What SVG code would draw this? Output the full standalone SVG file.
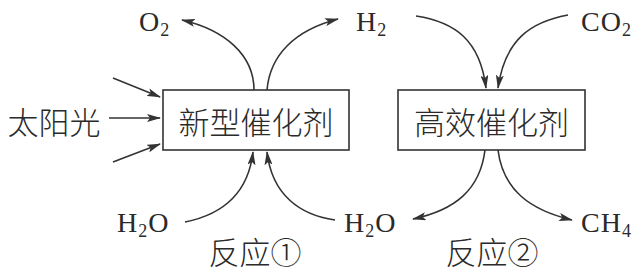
<svg xmlns="http://www.w3.org/2000/svg" width="641" height="273" viewBox="0 0 641 273">
<style>
.box{fill:#fff;stroke:#333;stroke-width:1.6}
.cjk{font-family:"Noto Sans CJK SC","Noto Sans CJK JP",sans-serif;font-size:31px;fill:#2a2a2a;font-weight:300}
.chem{font-family:"Liberation Serif","Times New Roman",serif;font-size:28px;fill:#2a2a2a;letter-spacing:1px}
.sub{font-size:18px}
.ln{fill:none;stroke:#333;stroke-width:1.6}
</style>
<defs>
<marker id="ah" viewBox="0 0 14 8" refX="13" refY="4" markerWidth="14" markerHeight="8" markerUnits="userSpaceOnUse" orient="auto">
<path d="M0,0 L14,4 L0,8 L3,4 Z" fill="#333"/>
</marker>
</defs>
<rect width="641" height="273" fill="#fff"/>
<g id="node-catalyst1">
<rect class="box" x="163" y="90" width="186" height="60"/>
<text class="cjk" x="256" y="120" text-anchor="middle" dominant-baseline="central">新型催化剂</text>
</g>
<g id="node-catalyst2">
<rect class="box" x="398" y="90" width="187" height="60"/>
<text class="cjk" x="491.5" y="120" text-anchor="middle" dominant-baseline="central">高效催化剂</text>
</g>
<g id="node-sunlight">
<text class="cjk" x="54" y="120" text-anchor="middle" dominant-baseline="central">太阳光</text>
</g>
<g id="node-o2"><text class="chem" x="139" y="31">O<tspan class="sub" dy="5">2</tspan></text></g>
<g id="node-h2"><text class="chem" x="356" y="31">H<tspan class="sub" dy="5">2</tspan></text></g>
<g id="node-co2"><text class="chem" x="581" y="31">CO<tspan class="sub" dy="5">2</tspan></text></g>
<g id="node-h2o-left"><text class="chem" x="117" y="232">H<tspan class="sub" dy="5">2</tspan><tspan dy="-5">O</tspan></text></g>
<g id="node-h2o-right"><text class="chem" x="344" y="232">H<tspan class="sub" dy="5">2</tspan><tspan dy="-5">O</tspan></text></g>
<g id="node-ch4"><text class="chem" x="581" y="232">CH<tspan class="sub" dy="5">4</tspan></text></g>
<g id="label-r1"><text class="cjk" x="255" y="250" text-anchor="middle" dominant-baseline="central">反应①</text></g>
<g id="label-r2"><text class="cjk" x="492" y="250" text-anchor="middle" dominant-baseline="central">反应②</text></g>
<g id="connectors">
<path class="ln" d="M113,78 L160,97" marker-end="url(#ah)"/>
<path class="ln" d="M109,118 L160,118" marker-end="url(#ah)"/>
<path class="ln" d="M113,162 L160,144" marker-end="url(#ah)"/>
<path class="ln" d="M254,90 C254,55 225,30 182,20" marker-end="url(#ah)"/>
<path class="ln" d="M267,90 C270,55 295,30 338,19" marker-end="url(#ah)"/>
<path class="ln" d="M416,16 C455,22 480,40 486,88" marker-end="url(#ah)"/>
<path class="ln" d="M568,15 C530,22 505,40 498,88" marker-end="url(#ah)"/>
<path class="ln" d="M185,222 C220,215 248,195 253,152" marker-end="url(#ah)"/>
<path class="ln" d="M335,220 C300,215 272,195 267,152" marker-end="url(#ah)"/>
<path class="ln" d="M485,150 C480,190 455,210 413,219" marker-end="url(#ah)"/>
<path class="ln" d="M498,150 C503,190 530,210 572,220" marker-end="url(#ah)"/>
</g>
</svg>
